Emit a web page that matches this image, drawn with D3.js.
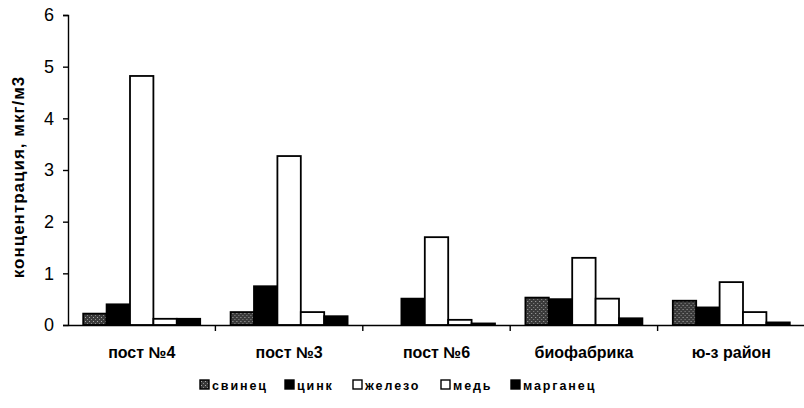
<!DOCTYPE html>
<html>
<head>
<meta charset="utf-8">
<style>
  body { margin: 0; background: #fff; }
  svg { font-family: 'Liberation Sans', Arial, sans-serif; }
</style>
</head>
<body>
<svg width="804" height="408"></svg>
<script src="https://d3js.org/d3.v7.min.js"></script>
<script>
  // sampling sites
  let categories = ["пост №4", "пост №3", "пост №6", "биофабрика", "ю-з район"];
  let series = ["свинец", "цинк", "железо", "медь", "марганец"];
  // values per series, one per site
  let svinec   = [0.22, 0.25, 0.0,  0.53, 0.47];
  let cink     = [0.40, 0.75, 0.51, 0.50, 0.34];
  let zhelezo  = [4.82, 3.27, 1.70, 1.30, 0.83];
  let med      = [0.12, 0.25, 0.10, 0.51, 0.25];
  let marganec = [0.12, 0.17, 0.03, 0.13, 0.05];
  let yTicks = [0, 1, 2, 3, 4, 5, 6];

  let values = [svinec, cink, zhelezo, med, marganec];
  let fills = ["url(#dots)", "#000", "#fff", "#fff", "#000"];

  let svg = d3.select("svg");
  let margin = { left: 68, right: 0, top: 15, bottom: 83 };
  let width = 805, height = 408;

  let defs = svg.append("defs");
  let pat = defs.append("pattern")
    .attr("id", "dots")
    .attr("width", 4).attr("height", 4)
    .attr("patternUnits", "userSpaceOnUse");
  pat.append("rect").attr("width", 4).attr("height", 4).attr("fill", "#3a3a3a");
  pat.append("rect").attr("x", 1).attr("y", 1).attr("width", 1).attr("height", 1).attr("fill", "#aaa");
  pat.append("rect").attr("x", 3).attr("y", 3).attr("width", 1).attr("height", 1).attr("fill", "#888");

  let x = d3.scaleBand()
    .domain(categories)
    .range([margin.left, width - margin.right])
    .paddingInner(0).paddingOuter(0);

  let x1 = d3.scaleBand()
    .domain(series)
    .range([0, x.bandwidth()])
    .paddingOuter(0.65).paddingInner(0);

  let y = d3.scaleLinear()
    .domain([0, 6])
    .range([height - margin.bottom, margin.top]);

  // bars
  let groups = svg.append("g")
    .selectAll("g")
    .data(categories)
    .join("g")
    .attr("transform", d => `translate(${x(d)},0)`);

  groups.selectAll("rect")
    .data((d, i) => series.map((s, j) => ({ s: s, v: values[j][i], f: fills[j] })))
    .join("rect")
    .attr("x", d => x1(d.s))
    .attr("y", d => y(d.v))
    .attr("width", x1.bandwidth())
    .attr("height", d => y(0) - y(d.v))
    .attr("fill", d => d.f)
    .attr("stroke", "#000")
    .attr("stroke-width", 1.8);

  // y axis
  let yAxis = svg.append("g")
    .attr("transform", `translate(${margin.left},0)`)
    .call(d3.axisLeft(y).tickValues(yTicks).tickSize(5).tickPadding(9).tickFormat(d3.format("d")));
  yAxis.select(".domain").attr("stroke-width", 1.4);
  yAxis.selectAll(".tick line").attr("stroke-width", 1.4);
  yAxis.selectAll("text").attr("font-size", 18).attr("fill", "#000");

  // x axis
  let xAxis = svg.append("g")
    .attr("transform", `translate(0,${y(0)})`)
    .call(d3.axisBottom(x).tickSize(0).tickPadding(22));
  xAxis.select(".domain").attr("stroke-width", 1.4);
  xAxis.selectAll("text").attr("font-size", 16).attr("font-weight", "bold").attr("fill", "#000");

  // category boundary ticks
  svg.append("g")
    .selectAll("line")
    .data(categories)
    .join("line")
    .attr("x1", d => x(d) + x.bandwidth())
    .attr("x2", d => x(d) + x.bandwidth())
    .attr("y1", y(0))
    .attr("y2", y(0) + 6)
    .attr("stroke", "#000")
    .attr("stroke-width", 1.4);

  // y label
  svg.append("text")
    .attr("transform", `translate(24,${(y(0) + y(6)) / 2 + 7}) rotate(-90)`)
    .attr("text-anchor", "middle")
    .attr("font-size", 17)
    .attr("font-weight", "bold")
    .attr("letter-spacing", 1)
    .text("концентрация, мкг/м3");

  // legend
  let legendX = [200, 285, 353, 441, 511];
  let legend = svg.append("g")
    .selectAll("g")
    .data(series)
    .join("g")
    .attr("transform", (d, i) => `translate(${legendX[i]},380)`);
  legend.append("rect")
    .attr("width", 9).attr("height", 9)
    .attr("fill", (d, i) => fills[i])
    .attr("stroke", "#000")
    .attr("stroke-width", 1.4);
  legend.append("text")
    .attr("x", 12)
    .attr("y", 9.5)
    .attr("font-size", 12.5)
    .attr("font-weight", "bold")
    .attr("letter-spacing", 1.9)
    .text(d => d);
</script>
</body>
</html>
